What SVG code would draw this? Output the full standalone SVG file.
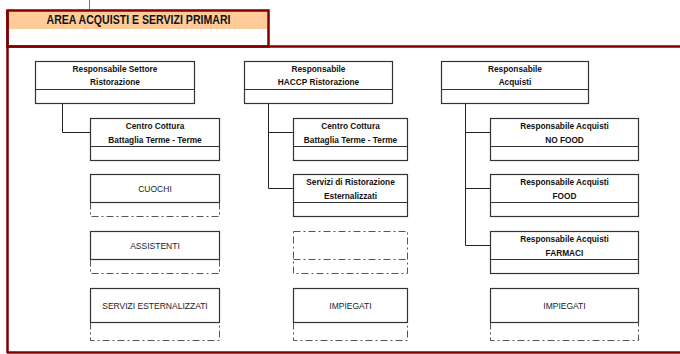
<svg xmlns="http://www.w3.org/2000/svg" width="680" height="354" viewBox="0 0 680 354">
<style>
.box{fill:#fff;stroke:#333;stroke-width:1.2}
.dd{fill:none;stroke:#555;stroke-width:1;stroke-dasharray:7 3 2 3}
.conn{fill:none;stroke:#222;stroke-width:1}
.frame{fill:none;stroke:#800000;stroke-width:2.5}
.b{font-family:"Liberation Sans",Arial,sans-serif;font-weight:bold;font-size:8.3px;text-anchor:middle;fill:#111}
.n{font-family:"Liberation Sans",Arial,sans-serif;font-size:8.5px;text-anchor:middle;fill:#222}
.h{font-family:"Liberation Sans",Arial,sans-serif;font-weight:bold;font-size:12px;text-anchor:middle;fill:#111}
</style>
<rect width="680" height="354" fill="#fff"/>
<g id="frame">
<line x1="89.5" y1="0" x2="89.5" y2="10" stroke="#777" stroke-width="1"/>
<rect x="8.5" y="11.5" width="259" height="17.5" fill="#FFCC99"/>
<rect class="frame" x="7.5" y="10.5" width="261" height="36"/>
<path class="frame" d="M7.5 10 V353 M7 46.5 H680 M7 352.5 H680"/>
<text class="h" x="138.5" y="23.5" textLength="184" lengthAdjust="spacingAndGlyphs">AREA ACQUISTI E SERVIZI PRIMARI</text>
</g>
<g id="connectors">
<path class="conn" d="M62.5 103.5 V132.5 H90.5"/>
<path class="conn" d="M268.5 103.5 V188.5 H293.5 M268.5 132.5 H293.5"/>
<path class="conn" d="M465.5 103.5 V245.5 H490.5 M465.5 132.5 H490.5 M465.5 188.5 H490.5"/>
</g>
<g id="resp-settore">
<rect class="box" x="35.5" y="61.5" width="159" height="42"/>
<line class="box" x1="35.5" y1="89.5" x2="194.5" y2="89.5"/>
<text class="b" x="115" y="72">Responsabile Settore</text>
<text class="b" x="115" y="85">Ristorazione</text>
</g>
<g id="centro-cottura-1">
<rect class="box" x="90.5" y="118.5" width="129" height="42"/>
<line class="box" x1="90.5" y1="146.5" x2="219.5" y2="146.5"/>
<text class="b" x="155" y="129">Centro Cottura</text>
<text class="b" x="155" y="142.5">Battaglia Terme - Terme</text>
</g>
<g id="cuochi">
<rect class="box" x="90.5" y="174.5" width="129" height="28"/>
<path class="dd" d="M90.5 202.5 V216.5 H219.5 V202.5"/>
<text class="n" x="155" y="191.5">CUOCHI</text>
</g>
<g id="assistenti">
<rect class="box" x="90.5" y="231.5" width="129" height="28"/>
<path class="dd" d="M90.5 259.5 V273.5 H219.5 V259.5"/>
<text class="n" x="155" y="248.5">ASSISTENTI</text>
</g>
<g id="servizi-esternalizzati">
<rect class="box" x="90.5" y="288.5" width="129" height="34"/>
<path class="dd" d="M90.5 322.5 V340.5 H219.5 V322.5"/>
<text class="n" x="155" y="308.5">SERVIZI ESTERNALIZZATI</text>
</g>
<g id="resp-haccp">
<rect class="box" x="244.5" y="61.5" width="148" height="42"/>
<line class="box" x1="244.5" y1="89.5" x2="392.5" y2="89.5"/>
<text class="b" x="318.5" y="72">Responsabile</text>
<text class="b" x="318.5" y="85">HACCP Ristorazione</text>
</g>
<g id="centro-cottura-2">
<rect class="box" x="293.5" y="118.5" width="114" height="42"/>
<line class="box" x1="293.5" y1="146.5" x2="407.5" y2="146.5"/>
<text class="b" x="350.5" y="129">Centro Cottura</text>
<text class="b" x="350.5" y="142.5">Battaglia Terme - Terme</text>
</g>
<g id="servizi-ristorazione">
<rect class="box" x="293.5" y="174.5" width="114" height="42"/>
<line class="box" x1="293.5" y1="202.5" x2="407.5" y2="202.5"/>
<text class="b" x="350.5" y="185">Servizi di Ristorazione</text>
<text class="b" x="350.5" y="198.5">Esternalizzati</text>
</g>
<g id="vuoto">
<rect class="dd" x="293.5" y="231.5" width="114" height="42"/>
<line class="dd" x1="293.5" y1="259.5" x2="407.5" y2="259.5"/>
</g>
<g id="impiegati-2">
<rect class="box" x="293.5" y="288.5" width="114" height="34"/>
<path class="dd" d="M293.5 322.5 V340.5 H407.5 V322.5"/>
<text class="n" x="350.5" y="308.5">IMPIEGATI</text>
</g>
<g id="resp-acquisti">
<rect class="box" x="441.5" y="61.5" width="147" height="42"/>
<line class="box" x1="441.5" y1="89.5" x2="588.5" y2="89.5"/>
<text class="b" x="515" y="72">Responsabile</text>
<text class="b" x="515" y="85">Acquisti</text>
</g>
<g id="no-food">
<rect class="box" x="490.5" y="118.5" width="148" height="42"/>
<line class="box" x1="490.5" y1="146.5" x2="638.5" y2="146.5"/>
<text class="b" x="564.5" y="129">Responsabile Acquisti</text>
<text class="b" x="564.5" y="142.5">NO FOOD</text>
</g>
<g id="food">
<rect class="box" x="490.5" y="174.5" width="148" height="42"/>
<line class="box" x1="490.5" y1="202.5" x2="638.5" y2="202.5"/>
<text class="b" x="564.5" y="185">Responsabile Acquisti</text>
<text class="b" x="564.5" y="198.5">FOOD</text>
</g>
<g id="farmaci">
<rect class="box" x="490.5" y="231.5" width="148" height="42"/>
<line class="box" x1="490.5" y1="259.5" x2="638.5" y2="259.5"/>
<text class="b" x="564.5" y="242">Responsabile Acquisti</text>
<text class="b" x="564.5" y="255.5">FARMACI</text>
</g>
<g id="impiegati-3">
<rect class="box" x="490.5" y="288.5" width="148" height="34"/>
<path class="dd" d="M490.5 322.5 V340.5 H638.5 V322.5"/>
<text class="n" x="564.5" y="308.5">IMPIEGATI</text>
</g>
</svg>
